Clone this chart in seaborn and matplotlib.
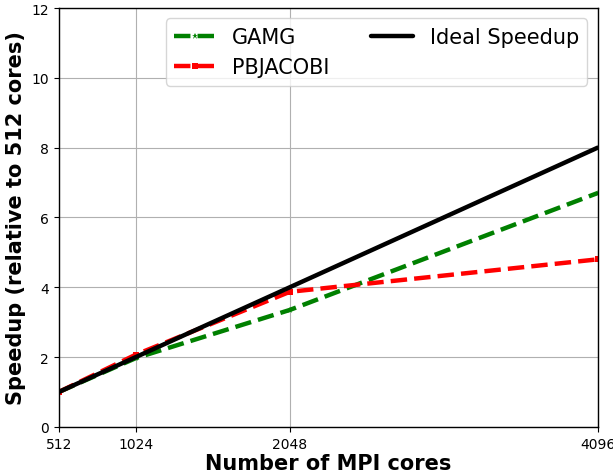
import matplotlib
matplotlib.use("Agg")
import matplotlib.pyplot as plt
import seaborn as sns
import pandas as pd

cores = [512, 1024, 2048, 4096]
gamg = [1.0, 1.97, 3.35, 6.7]
pbjacobi = [1.0, 2.07, 3.87, 4.8]
ideal = [1.0, 2.0, 4.0, 8.0]

sns.set_style("ticks")
plt.rcParams['font.family'] = ['DejaVu Sans']
plt.rcParams['text.color'] = 'black'
plt.rcParams['axes.labelcolor'] = 'black'
plt.rcParams['xtick.color'] = 'black'
plt.rcParams['ytick.color'] = 'black'

fig, ax = plt.subplots(figsize=(6.13, 4.77), dpi=100)
df = pd.DataFrame({"cores": cores, "GAMG": gamg, "PBJACOBI": pbjacobi, "Ideal": ideal})

sns.lineplot(data=df, x="cores", y="GAMG", ax=ax, color="green", linestyle="--",
             linewidth=3.2, marker="*", markersize=5, markeredgewidth=0, label="GAMG")
sns.lineplot(data=df, x="cores", y="PBJACOBI", ax=ax, color="red", linestyle="--",
             linewidth=3.2, marker="s", markersize=4, markeredgewidth=0, label="PBJACOBI")
sns.lineplot(data=df, x="cores", y="Ideal", ax=ax, color="black", linestyle="-",
             linewidth=3.2, label="Ideal Speedup")

ax.set_xlim(512, 4096)
ax.set_ylim(0, 12)
ax.set_xticks(cores)
ax.set_xticklabels([str(c) for c in cores])
ax.set_yticks([0, 2, 4, 6, 8, 10, 12])
ax.grid(True, color="#b0b0b0", linewidth=0.8)
ax.tick_params(labelsize=10, direction="out", length=3.5, color="black", labelcolor="black")
for s in ax.spines.values():
    s.set_color("black")
    s.set_linewidth(1.0)
ax.set_xlabel("Number of MPI cores", fontsize=15, fontweight="bold", labelpad=2)
ax.set_ylabel("Speedup (relative to 512 cores)", fontsize=15, fontweight="bold")
leg = ax.legend(ncol=2, fontsize=15, loc="upper right", frameon=True, columnspacing=2.0,
                fancybox=True, framealpha=0.8, edgecolor="#cccccc")
for t in leg.get_texts():
    t.set_color("black")

fig.subplots_adjust(left=0.096, right=0.975, top=0.981, bottom=0.103)
fig.savefig("out.png", dpi=100)
